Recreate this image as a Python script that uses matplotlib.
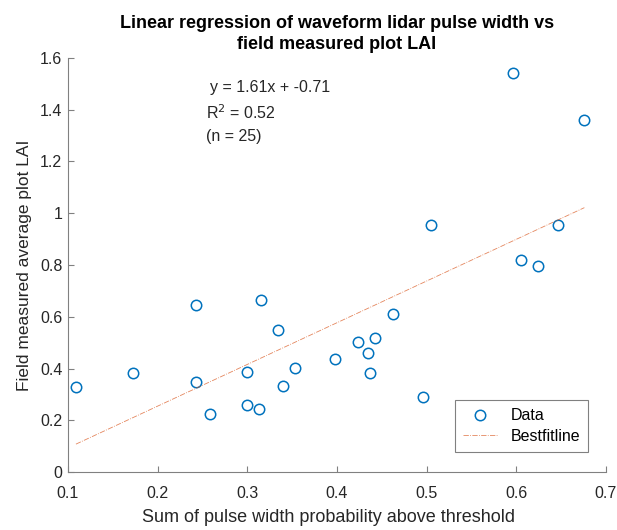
import numpy as np
import matplotlib.pyplot as plt

plt.rcParams['font.family'] = ['Liberation Sans', 'DejaVu Sans']

# Данные
pulse_width = [0.109, 0.173, 0.243, 0.243, 0.259, 0.300, 0.300, 0.313, 0.315,
               0.334, 0.340, 0.353, 0.398, 0.423, 0.435, 0.437, 0.443, 0.463,
               0.496, 0.505, 0.596, 0.605, 0.624, 0.647, 0.676]
plot_lai = [0.330, 0.383, 0.645, 0.348, 0.224, 0.386, 0.259, 0.244, 0.665,
            0.549, 0.332, 0.402, 0.437, 0.502, 0.460, 0.383, 0.518, 0.611,
            0.290, 0.955, 1.540, 0.820, 0.796, 0.955, 1.360]

# Линия наилучшего соответствия (как нарисована на исходном графике)
fit_slope = 1.61
fit_intercept = -0.067

x = np.array(pulse_width)
y = np.array(plot_lai)
x_fit = np.array([x.min(), x.max()])
y_fit = fit_slope * x_fit + fit_intercept

fig = plt.figure(figsize=(6.17, 5.30), dpi=100)
ax = fig.add_axes([0.110, 0.109, 0.872, 0.782])

ax.plot(x, y, 'o', markerfacecolor='none', markeredgecolor='#0072BD',
        markersize=7.5, markeredgewidth=1.1, label='Data')
ax.plot(x_fit, y_fit, '-.', color='#D95319', linewidth=0.6, alpha=0.7,
        label='Bestfitline')

ax.set_xlim(0.1, 0.7)
ax.set_ylim(0, 1.6)
ax.set_xticks(np.arange(0.1, 0.71, 0.1))
ax.set_xticklabels(['0.1', '0.2', '0.3', '0.4', '0.5', '0.6', '0.7'])
ax.set_yticks(np.arange(0, 1.61, 0.2))
ax.set_yticklabels(['0', '0.2', '0.4', '0.6', '0.8', '1', '1.2', '1.4', '1.6'])

gray = '#262626'
for s in ['top', 'right']:
    ax.spines[s].set_visible(False)
for s in ['left', 'bottom']:
    ax.spines[s].set_color('#808080')
    ax.spines[s].set_linewidth(0.8)
ax.tick_params(direction='in', length=4, color='#808080', labelsize=11.5,
               labelcolor=gray)
ax.tick_params(axis='x', pad=10)
ax.tick_params(axis='y', pad=4)

ax.set_xlabel('Sum of pulse width probability above threshold', fontsize=13,
              color=gray)
ax.xaxis.set_label_coords(0.485, -0.088)
ax.set_ylabel('Field measured average plot LAI', fontsize=12.5, color=gray,
              labelpad=6)
ax.set_title('Linear regression of waveform lidar pulse width vs\nfield measured plot LAI',
             fontsize=13, fontweight='bold', color='black', pad=6,
             linespacing=1.35)

ax.text(0.258, 1.485, 'y = 1.61x + -0.71', fontsize=11.5, color=gray, va='center')
ax.text(0.254, 1.39, r'R$^2$ = 0.52', fontsize=11.5, color=gray, va='center')
ax.text(0.254, 1.295, '(n = 25)', fontsize=11.5, color=gray, va='center')

leg = ax.legend(loc='lower right', bbox_to_anchor=(0.982, 0.03), fontsize=11.5,
                fancybox=False, edgecolor='#808080', framealpha=1,
                handlelength=2.2, borderpad=0.5, labelspacing=0.35)
leg.get_frame().set_linewidth(0.8)

fig.savefig('out.png', dpi=100)
